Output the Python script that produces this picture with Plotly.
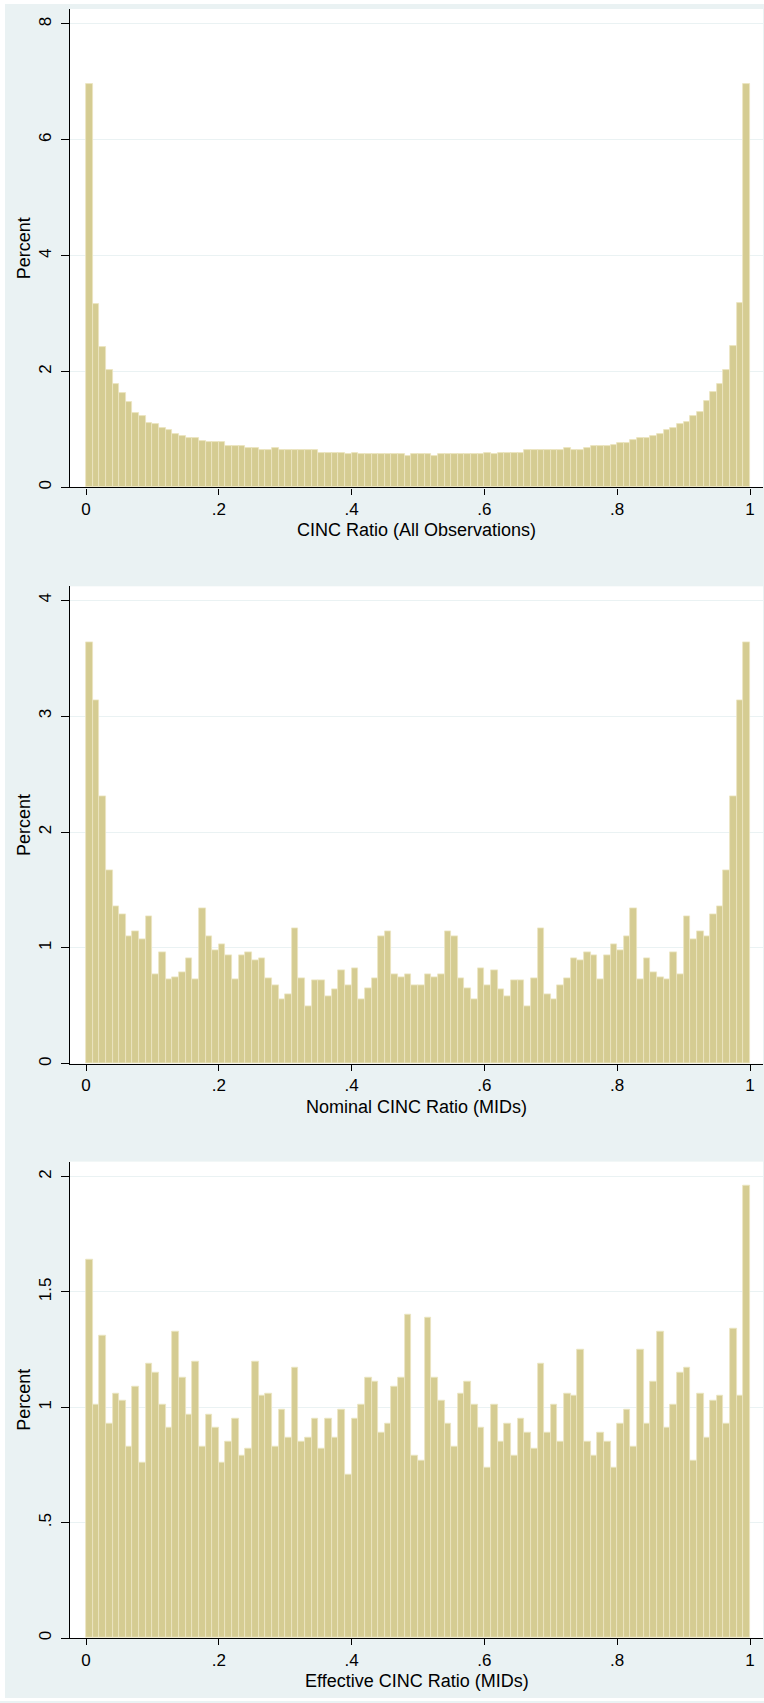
import numpy as np
import plotly.graph_objects as go

W, H = 764, 1703

# ---- data: percent of observations per bin (100 bins on [0,1]) ----
all_obs = [
    6.96, 3.16, 2.43, 2.02, 1.78, 1.63, 1.47, 1.29, 1.23, 1.12,
    1.09, 1.02, 0.99, 0.92, 0.89, 0.85, 0.85, 0.81, 0.78, 0.78,
    0.78, 0.71, 0.71, 0.71, 0.68, 0.68, 0.64, 0.64, 0.68, 0.64,
    0.64, 0.64, 0.64, 0.64, 0.64, 0.60, 0.60, 0.60, 0.60, 0.57,
    0.60, 0.57, 0.57, 0.57, 0.57, 0.57, 0.57, 0.57, 0.54, 0.57,
    0.57, 0.57, 0.54, 0.57, 0.57, 0.57, 0.57, 0.57, 0.57, 0.57,
    0.60, 0.57, 0.60, 0.60, 0.60, 0.60, 0.64, 0.64, 0.64, 0.64,
    0.64, 0.64, 0.68, 0.64, 0.64, 0.68, 0.71, 0.71, 0.71, 0.74,
    0.77, 0.77, 0.82, 0.85, 0.85, 0.89, 0.93, 0.99, 1.03, 1.10,
    1.13, 1.24, 1.30, 1.50, 1.64, 1.79, 2.02, 2.45, 3.18, 6.96,
]
nominal_mids = [
    3.64, 3.14, 2.31, 1.67, 1.36, 1.29, 1.10, 1.14, 1.07, 1.27,
    0.77, 0.96, 0.73, 0.75, 0.79, 0.91, 0.73, 1.34, 1.10, 0.98,
    1.03, 0.94, 0.73, 0.94, 0.96, 0.89, 0.91, 0.74, 0.68, 0.56,
    0.60, 1.17, 0.74, 0.50, 0.72, 0.72, 0.58, 0.64, 0.81, 0.68,
    0.82, 0.56, 0.65, 0.74, 1.10, 1.14, 0.77, 0.75, 0.77, 0.68,
    0.68, 0.77, 0.75, 0.77, 1.14, 1.10, 0.74, 0.65, 0.56, 0.82,
    0.68, 0.81, 0.64, 0.58, 0.72, 0.72, 0.50, 0.74, 1.17, 0.60,
    0.56, 0.68, 0.74, 0.91, 0.89, 0.96, 0.94, 0.73, 0.94, 1.03,
    0.98, 1.10, 1.34, 0.73, 0.91, 0.79, 0.75, 0.73, 0.96, 0.77,
    1.27, 1.07, 1.14, 1.10, 1.29, 1.36, 1.67, 2.31, 3.14, 3.64,
]
effective_mids = [
    1.64, 1.01, 1.31, 0.93, 1.06, 1.03, 0.83, 1.09, 0.76, 1.19,
    1.15, 1.01, 0.91, 1.33, 1.13, 0.97, 1.20, 0.83, 0.97, 0.91,
    0.76, 0.85, 0.95, 0.79, 0.82, 1.20, 1.05, 1.06, 0.83, 0.99,
    0.87, 1.17, 0.85, 0.87, 0.95, 0.82, 0.95, 0.87, 0.99, 0.71,
    0.95, 1.01, 1.13, 1.11, 0.89, 0.93, 1.09, 1.13, 1.40, 0.79,
    0.77, 1.39, 1.13, 1.03, 0.93, 0.83, 1.06, 1.11, 1.01, 0.91,
    0.74, 1.01, 0.85, 0.93, 0.79, 0.95, 0.89, 0.82, 1.19, 0.89,
    1.01, 0.85, 1.06, 1.05, 1.25, 0.85, 0.79, 0.89, 0.85, 0.74,
    0.93, 0.99, 0.83, 1.25, 0.93, 1.11, 1.33, 0.91, 1.01, 1.15,
    1.17, 0.77, 1.06, 0.87, 1.03, 1.05, 0.93, 1.34, 1.05, 1.96,
]

x_titles = ["CINC Ratio (All Observations)", "Nominal CINC Ratio (MIDs)",
            "Effective CINC Ratio (MIDs)"]
x_tickvals = [0, 0.2, 0.4, 0.6, 0.8, 1]
x_ticktext = ["0", ".2", ".4", ".6", ".8", "1"]
y_tickvals = [[0, 2, 4, 6, 8], [0, 1, 2, 3, 4], [0, 0.5, 1, 1.5, 2]]
y_ticktext = [["0", "2", "4", "6", "8"], ["0", "1", "2", "3", "4"],
              ["0", ".5", "1", "1.5", "2"]]

n_bins = 100
bin_width = 1.0 / n_bins
bin_centers = (np.arange(n_bins) + 0.5) * bin_width

# ---- layout geometry (pixels) ----
BG = "#EAF2F3"
BAR_FILL = "#D5CC92"
BAR_LINE = "#ECE6C2"
FONT = "Liberation Sans, Arial, Helvetica, sans-serif"

plot_left, plot_right = 70, 763
x0_px, x1_px = 86, 750            # pixel of x=0 and x=1
px_per_x = x1_px - x0_px
x_range = [(plot_left - x0_px) / px_per_x, 1 + (plot_right - x1_px) / px_per_x]

# (plot top px, axis px, top tick value, top tick px)
panels = [
    (9, 488, 8, 24),
    (587, 1065, 4, 601),
    (1163, 1640, 2, 1178),
]

fig = go.Figure()
layout = dict(
    width=W, height=H,
    margin=dict(l=0, r=0, t=0, b=0),
    paper_bgcolor=BG,
    plot_bgcolor="white",
    showlegend=False,
    font=dict(family=FONT, color="black", size=17),
    bargap=0,
)

annotations = []
shapes = [
    dict(type="rect", xref="paper", yref="paper", x0=0, x1=5 / W, y0=0, y1=1,
         fillcolor="white", line=dict(width=0), layer="below"),
    dict(type="rect", xref="paper", yref="paper", x0=0, x1=1, y0=1 - 4 / H, y1=1,
         fillcolor="white", line=dict(width=0), layer="below"),
    dict(type="rect", xref="paper", yref="paper", x0=0, x1=1, y0=0, y1=3 / H,
         fillcolor="white", line=dict(width=0), layer="below"),
]

series = [all_obs, nominal_mids, effective_mids]
for k, (top_px, axis_px, top_val, top_val_px) in enumerate(panels):
    idx = "" if k == 0 else str(k + 1)
    px_per_y = (axis_px - top_val_px) / top_val
    y_top = top_val + (top_val_px - top_px) / px_per_y
    dom = [1 - axis_px / H, 1 - top_px / H]

    fig.add_trace(go.Bar(
        x=bin_centers, y=series[k], width=bin_width,
        marker=dict(color=BAR_FILL, line=dict(color=BAR_LINE, width=0.8)),
        xaxis="x" + idx, yaxis="y" + idx, hoverinfo="x+y",
    ))

    layout["xaxis" + idx] = dict(
        domain=[plot_left / W, plot_right / W], range=x_range,
        anchor="y" + idx, showgrid=False, zeroline=False,
        showline=True, linecolor="black", linewidth=1.4,
        ticks="outside", ticklen=6, tickwidth=1.4, tickcolor="black",
        tickvals=x_tickvals, ticktext=x_ticktext,
        tickfont=dict(size=17), fixedrange=True,
    )
    layout["yaxis" + idx] = dict(
        domain=dom, range=[0, y_top], anchor="x" + idx,
        showgrid=True, gridcolor=BG, gridwidth=1.2, zeroline=False,
        showline=True, linecolor="black", linewidth=1.4,
        ticks="outside", ticklen=8, tickwidth=1.4, tickcolor="black",
        tickvals=y_tickvals[k], ticktext=y_ticktext[k], tickangle=-90,
        ticklabelstandoff=3,
        tickfont=dict(size=17), fixedrange=True,
    )

    # axis titles
    annotations.append(dict(
        text=x_titles[k], xref="paper", yref="paper",
        x=(plot_left + plot_right) / 2 / W, y=1 - (axis_px + 43) / H,
        xanchor="center", yanchor="middle", showarrow=False,
        font=dict(size=18, family=FONT),
    ))
    annotations.append(dict(
        text="Percent", xref="paper", yref="paper",
        x=24 / W, y=1 - (top_px + axis_px) / 2 / H,
        xanchor="center", yanchor="middle", showarrow=False, textangle=-90,
        font=dict(size=18, family=FONT),
    ))

layout["annotations"] = annotations
layout["shapes"] = shapes
fig.update_layout(**layout)
fig.write_html("out.html")
